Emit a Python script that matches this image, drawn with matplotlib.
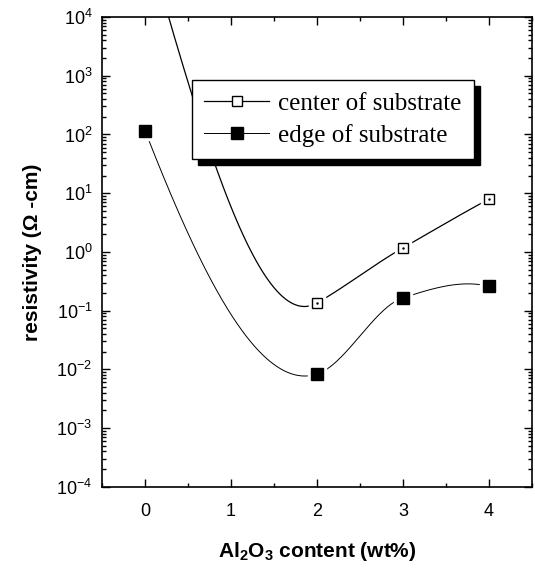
import numpy as np
import matplotlib
matplotlib.use("Agg")
import matplotlib.pyplot as plt
from matplotlib.ticker import LogLocator, MultipleLocator, NullFormatter
from matplotlib.lines import Line2D

plt.rcParams["font.family"] = ["Liberation Sans", "DejaVu Sans"]
plt.rcParams["mathtext.fontset"] = "custom"
plt.rcParams["mathtext.rm"] = "Liberation Sans"
plt.rcParams["mathtext.it"] = "Liberation Sans:italic"
plt.rcParams["mathtext.bf"] = "Liberation Sans:bold"

# data
al2o3_center = [0, 2, 3, 4]
rho_center = [2.5e5, 0.135, 1.17, 7.9]   # x=0 value lies off the top of the plot
al2o3_edge = [0, 2, 3, 4]
rho_edge = [115, 0.0083, 0.165, 0.26]


def akima(x, y, xs):
    # Akima spline, the smoothing the original plot appears to use
    x = np.asarray(x, float)
    y = np.asarray(y, float)
    n = len(x)
    h = np.diff(x)
    m = np.diff(y) / h
    mm = np.empty(n + 3)
    mm[2:n + 1] = m
    mm[1] = 2 * mm[2] - mm[3]
    mm[0] = 2 * mm[1] - mm[2]
    mm[n + 1] = 2 * mm[n] - mm[n - 1]
    mm[n + 2] = 2 * mm[n + 1] - mm[n]
    t = np.empty(n)
    for i in range(n):
        w1 = abs(mm[i + 3] - mm[i + 2])
        w2 = abs(mm[i + 1] - mm[i])
        if w1 + w2 == 0:
            t[i] = 0.5 * (mm[i + 1] + mm[i + 2])
        else:
            t[i] = (w1 * mm[i + 1] + w2 * mm[i + 2]) / (w1 + w2)
    idx = np.clip(np.searchsorted(x, xs) - 1, 0, n - 2)
    hh = h[idx]
    s = (xs - x[idx]) / hh
    h00 = 2 * s ** 3 - 3 * s ** 2 + 1
    h10 = s ** 3 - 2 * s ** 2 + s
    h01 = -2 * s ** 3 + 3 * s ** 2
    h11 = s ** 3 - s ** 2
    return h00 * y[idx] + h10 * hh * t[idx] + h01 * y[idx + 1] + h11 * hh * t[idx + 1]


fig = plt.figure(figsize=(5.35, 5.68), dpi=100)
ax = fig.add_axes([0.191, 0.143, 0.803, 0.827])

xs = np.linspace(0, 4, 400)
ax.plot(xs, 10 ** akima(al2o3_center, np.log10(rho_center), xs),
        color="black", lw=0.9, zorder=2)
ax.plot(xs, 10 ** akima(al2o3_edge, np.log10(rho_edge), xs),
        color="black", lw=0.7, zorder=2)

# white halo behind markers gives the small gap around each symbol
ax.plot(al2o3_center, rho_center, ls="none", marker="s", ms=11, mfc="white",
        mec="white", zorder=3)
ax.plot(al2o3_edge, rho_edge, ls="none", marker="s", ms=13, mfc="white",
        mec="white", zorder=3)
ax.plot(al2o3_center, rho_center, ls="none", marker="s", ms=6.5, mfc="white",
        mec="black", mew=1.0, zorder=4)
ax.plot(al2o3_center, rho_center, ls="none", marker=".", ms=1.5, color="black",
        zorder=5)
ax.plot(al2o3_edge, rho_edge, ls="none", marker="s", ms=8.5, mfc="black",
        mec="black", zorder=4)

ax.set_yscale("log")
ax.set_xlim(-0.5, 4.5)
ax.set_ylim(1e-4, 1e4)
ax.set_xticks([0, 1, 2, 3, 4])
ax.xaxis.set_minor_locator(MultipleLocator(0.5))
ax.yaxis.set_major_locator(LogLocator(base=10, numticks=20))
ax.yaxis.set_minor_locator(LogLocator(base=10, subs=np.arange(2, 10), numticks=20))
ax.yaxis.set_minor_formatter(NullFormatter())

ax.tick_params(which="both", direction="in", top=True, right=True,
               labelsize=13, width=1.0)
ax.tick_params(axis="y", pad=7)
ax.tick_params(axis="x", pad=12)
ax.tick_params(which="major", length=6)
ax.tick_params(which="minor", length=3)
for s in ax.spines.values():
    s.set_linewidth(1.2)

ax.set_xlabel(r"Al$_\mathbf{2}$O$_\mathbf{3}$ content (wt%)", fontsize=15,
              fontweight="bold", labelpad=14)
ax.set_ylabel("resistivity (\u03a9 -cm)", fontsize=15, fontweight="bold",
              labelpad=10)

handles = [
    Line2D([], [], color="black", lw=0.9, marker="s", ms=6.5, mfc="white",
           mec="black"),
    Line2D([], [], color="black", lw=0.7, marker="s", ms=8.5, mfc="black",
           mec="black"),
]
leg = ax.legend(handles, ["center of substrate", "edge of substrate"],
                loc="upper left", bbox_to_anchor=(0.209, 0.866),
                borderaxespad=0, fancybox=False, framealpha=1,
                edgecolor="black", handlelength=2.6, handletextpad=0.35,
                borderpad=0.5, labelspacing=0.35,
                prop={"family": "Liberation Serif", "size": 18},
                shadow={"ox": 4, "oy": -4, "color": "black", "alpha": 1})
leg.get_frame().set_linewidth(1.0)

fig.savefig("out.png", dpi=100)
